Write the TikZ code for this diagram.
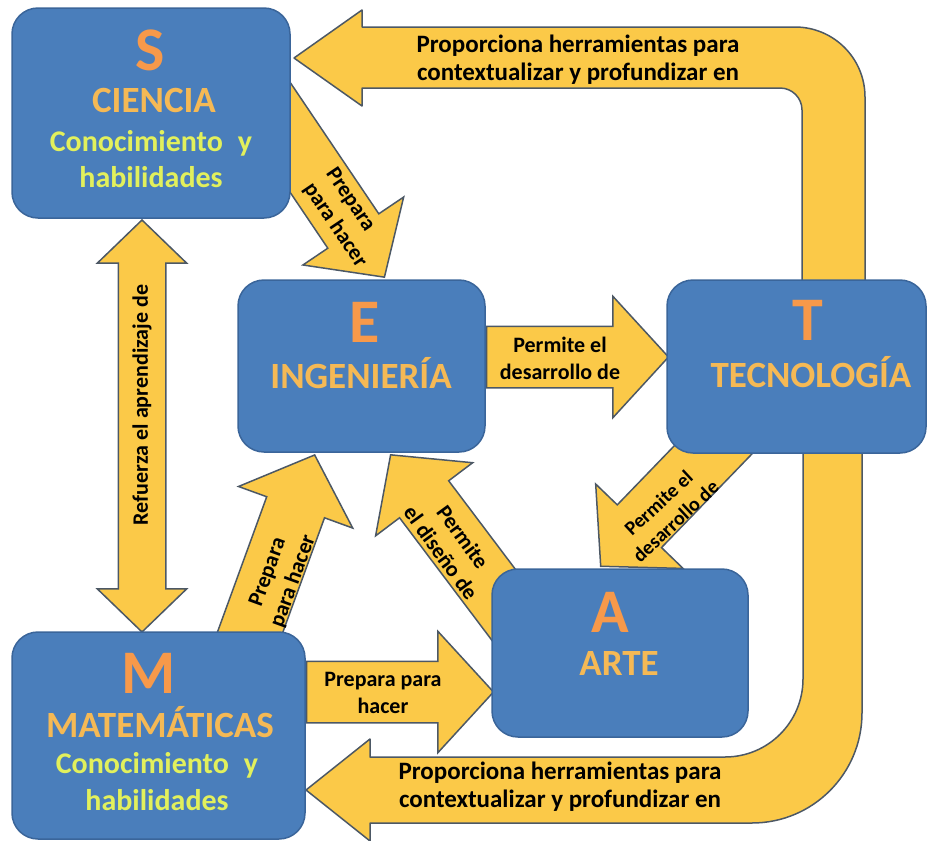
\documentclass[tikz,border=0pt]{standalone}
\usepackage{fontspec}
\setmainfont{Carlito}
\usetikzlibrary{shapes.arrows,backgrounds}
\definecolor{azul}{HTML}{4A7EBB}
\definecolor{bordecaja}{HTML}{3A659A}
\definecolor{amarillo}{HTML}{FBC948}
\definecolor{bordeflecha}{HTML}{4C5865}
\definecolor{naranja}{HTML}{F7994A}
\definecolor{oro}{HTML}{F5B955}
\definecolor{lima}{HTML}{E2F05C}
\tikzset{
  caja/.style={draw=bordecaja, fill=azul, line width=1.5pt, rounded corners=26pt},
  flecha/.style={single arrow, draw=bordeflecha, fill=amarillo, line width=1.5pt, inner xsep=0pt,
    inner ysep=30pt, single arrow head extend=30pt, single arrow tip angle=95},
  dobleflecha/.style={double arrow, draw=bordeflecha, fill=amarillo, line width=1.5pt, inner xsep=0pt,
    inner ysep=23pt, double arrow head extend=21pt, double arrow tip angle=92},
  banda/.style={draw=bordeflecha, fill=amarillo, line width=1.5pt, line join=round},
  letra/.style={font=\fontsize{62}{62}\selectfont\bfseries, text=naranja, anchor=base, inner sep=0pt},
  titulo/.style={font=\fontsize{37}{40}\selectfont\bfseries, text=oro, anchor=base, inner sep=0pt},
  subtitulo/.style={font=\fontsize{30}{36}\selectfont\bfseries, text=lima, anchor=base, inner sep=0pt},
  rotulo/.style={font=\fontsize{22}{27}\selectfont\bfseries, align=center, inner sep=0pt},
  rotulogrande/.style={font=\fontsize{25}{28}\selectfont\bfseries, align=center, inner sep=0pt},
}
\begin{document}
\begin{tikzpicture}[x=1pt, y=-1pt]
\useasboundingbox (0,0) rectangle (927,841);

% cajas
\node[caja, minimum width=278pt, minimum height=210pt] (S) at (151,113) {};
\node[caja, minimum width=247pt, minimum height=172pt] (E) at (361.5,366) {};
\node[caja, minimum width=259pt, minimum height=173pt] (T) at (796.5,366.5) {};
\node[caja, minimum width=256pt, minimum height=168pt] (A) at (620,653) {};
\node[caja, minimum width=293pt, minimum height=207pt] (M) at (158.5,735.5) {};

% flechas
\begin{pgfonlayer}{background}
\draw[banda] (294,58) -- (362,10) -- (362,27) -- (795,27) arc[start angle=-90, end angle=0, radius=70]
  -- (865,300) -- (802,300) -- (802,110) arc[start angle=0, end angle=-90, radius=22]
  -- (362,88) -- (362,106) -- cycle;
\draw[banda] (306,790) -- (370,739) -- (370,757) -- (725,757) arc[start angle=90, end angle=0, radius=78]
  -- (803,440) -- (862,440) -- (862,713) arc[start angle=0, end angle=90, radius=110]
  -- (370,823) -- (370,841) -- cycle;
\node[flecha, minimum height=182pt, anchor=tail] (ET) at ([yshift=9pt]E.east) {};
\node[flecha, minimum height=187pt, anchor=tail] (MA) at ([yshift=43.5pt]M.east) {};
\node[flecha, minimum height=230pt, rotate=-56, anchor=tip] (SE) at (385,278) {};
\node[flecha, minimum height=210pt, rotate=70, anchor=tip] (ME) at (315,454) {};
\node[flecha, minimum height=220pt, rotate=127, anchor=tip] (AE) at (390,454) {};
\node[flecha, minimum height=210pt, rotate=-134, anchor=tip] (TA) at (600,567) {};
\node[dobleflecha, minimum height=412pt, rotate=90] (SM) at (142,426) {};
\end{pgfonlayer}

% textos de las cajas
\node[letra] (Sl) at (150,70) {S};
\node[titulo] (St) at (154,112) {CIENCIA};
\node[subtitulo] (Ss1) at (151,151) {Conocimiento\enspace y};
\node[subtitulo] (Ss2) at (151,187) {habilidades};
\node[letra] (El) at (365,342) {E};
\node[titulo] (Et) at (361,388) {INGENIERÍA};
\node[letra] (Tl) at (808,340) {T};
\node[titulo] (Tt) at (811,387) {TECNOLOGÍA};
\node[letra] (Al) at (610,632) {A};
\node[titulo] (At) at (619,675) {ARTE};
\node[letra] (Ml) at (149,693) {M};
\node[titulo] (Mt) at (160,737) {MATEMÁTICAS};
\node[subtitulo] (Ms1) at (157,773) {Conocimiento\enspace y};
\node[subtitulo] (Ms2) at (157,810) {habilidades};

% textos de las flechas
\node[rotulogrande] (txtTS) at (578,60) {Proporciona herramientas para\\contextualizar y profundizar en};
\node[rotulogrande] (txtTM) at (560,787) {Proporciona herramientas para\\contextualizar y profundizar en};
\node[rotulo] (txtET) at (560,358) {Permite el\\desarrollo de};
\node[rotulo] (txtMA) at (383,693) {Prepara para\\hacer};
\node[rotulo, align=left, rotate=-56] (txtSE) at (346,218) {Prepara\\para hacer};
\node[rotulo, rotate=70] (txtME) at (281,577) {Prepara\\para hacer};
\node[rotulo, rotate=-54] (txtAE) at (452,545) {Permite\\el diseño de};
\node[rotulo, font=\fontsize{20}{25}\selectfont\bfseries, rotate=43] (txtTA) at (667,512) {Permite el\\desarrollo de};
\node[rotulo, rotate=90] (txtSM) at (142,405) {Refuerza el aprendizaje de};
\end{tikzpicture}
\end{document}
